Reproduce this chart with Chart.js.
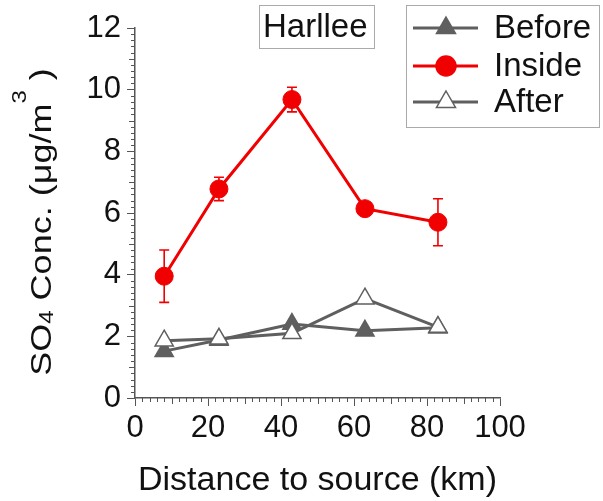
<!DOCTYPE html>
<html>
<head>
<meta charset="utf-8">
<script src="https://cdn.jsdelivr.net/npm/chart.js@4"></script>
<style>
  html, body { margin: 0; padding: 0; background: #fff; }
  canvas { display: block; }
</style>
</head>
<body>
<canvas id="myChart" width="603" height="501"></canvas>
<script>
// distance to source (km)
const distance = [8, 23, 43, 63, 83];
// SO4 concentration (ug/m3)
const beforeVals = [1.52, 1.88, 2.4, 2.18, 2.28];
const insideVals = [3.95, 6.78, 9.68, 6.14, 5.7];
const insideErr = [0.85, 0.38, 0.4, 0.2, 0.76];
const afterVals = [1.86, 1.92, 2.1, 3.22, 2.3];
const xTicks = [0, 20, 40, 60, 80, 100];
const yTicks = [0, 2, 4, 6, 8, 10, 12];
const siteName = 'Harllee';

const RED = 'rgb(240, 0, 0)';
const GRAY = 'rgb(95, 95, 95)';
const FONT = "'Liberation Sans', Arial, sans-serif";

function toPoints(vals) {
    let pts = [];
    for (let i = 0; i < distance.length; i++) {
        pts.push({ x: distance[i], y: vals[i] });
    }
    return pts;
}

// error bars on the Inside series
const errorBars = {
    id: 'errorBars',
    beforeDatasetsDraw(chart) {
        const ctx = chart.ctx;
        const xs = chart.scales.x, ys = chart.scales.y;
        ctx.save();
        ctx.strokeStyle = RED;
        ctx.lineWidth = 1.6;
        for (let i = 0; i < distance.length; i++) {
            const px = xs.getPixelForValue(distance[i]);
            const top = ys.getPixelForValue(insideVals[i] + insideErr[i]);
            const bot = ys.getPixelForValue(insideVals[i] - insideErr[i]);
            ctx.beginPath();
            ctx.moveTo(px, top); ctx.lineTo(px, bot);
            ctx.moveTo(px - 5, top); ctx.lineTo(px + 5, top);
            ctx.moveTo(px - 5, bot); ctx.lineTo(px + 5, bot);
            ctx.stroke();
        }
        ctx.restore();
    }
};

// minor ticks on both axes
const minorTicks = {
    id: 'minorTicks',
    afterDraw(chart) {
        const ctx = chart.ctx;
        const xs = chart.scales.x, ys = chart.scales.y;
        const a = chart.chartArea;
        ctx.save();
        ctx.strokeStyle = '#555';
        ctx.lineWidth = 1;
        ctx.beginPath();
        for (let v = 0; v <= 100.01; v += 2) {
            if (Math.round(v) % 20 === 0) continue;
            const px = Math.round(xs.getPixelForValue(v)) + 0.5;
            const len = Math.round(v) % 10 === 0 ? 6 : 4;
            ctx.moveTo(px, a.bottom); ctx.lineTo(px, a.bottom + len);
        }
        for (let k = 0; k <= 60; k++) {
            if (k % 10 === 0) continue;
            const py = Math.round(ys.getPixelForValue(k * 0.2)) + 0.5;
            const len = k % 5 === 0 ? 6 : 4;
            ctx.moveTo(a.left, py); ctx.lineTo(a.left - len, py);
        }
        ctx.stroke();
        ctx.restore();
    }
};

// y axis title with subscript 4 and superscript 3
const yTitle = {
    id: 'yTitle',
    afterDraw(chart) {
        const ctx = chart.ctx;
        const parts = [
            { t: 'SO', size: 30, dy: 0 },
            { t: '4', size: 20, dy: 2 },
            { t: ' Conc. (μg/m', size: 30, dy: 0 },
            { t: '3', size: 20, dy: -25 },
            { t: ' )', size: 30, dy: 0 }
        ];
        ctx.save();
        ctx.fillStyle = '#111';
        ctx.textBaseline = 'alphabetic';
        ctx.textAlign = 'left';
        let total = 0;
        parts.forEach(function (p) {
            ctx.font = p.size + 'px ' + FONT;
            p.w = ctx.measureText(p.t).width;
            total += p.w;
        });
        ctx.translate(51, 222);
        ctx.rotate(-Math.PI / 2);
        ctx.scale(1.2, 1);
        let x = -total / 2;
        parts.forEach(function (p) {
            ctx.font = p.size + 'px ' + FONT;
            ctx.fillText(p.t, x, p.dy);
            x += p.w;
        });
        ctx.restore();
    }
};

function drawMarker(ctx, kind, x, y, r, fill, stroke) {
    ctx.beginPath();
    if (kind === 'circle') {
        ctx.arc(x, y, r, 0, Math.PI * 2);
    } else {
        ctx.moveTo(x, y - r);
        ctx.lineTo(x + r * 0.866, y + r / 2);
        ctx.lineTo(x - r * 0.866, y + r / 2);
        ctx.closePath();
    }
    ctx.fillStyle = fill;
    ctx.fill();
    ctx.strokeStyle = stroke;
    ctx.lineWidth = 1.5;
    ctx.stroke();
}

// site label and legend boxes
const boxes = {
    id: 'boxes',
    afterDraw(chart) {
        const ctx = chart.ctx;
        ctx.save();
        ctx.strokeStyle = '#aaa';
        ctx.lineWidth = 1;
        ctx.strokeRect(259.5, 5.5, 115, 43);
        ctx.font = '33px ' + FONT;
        ctx.fillStyle = '#111';
        ctx.textBaseline = 'middle';
        ctx.textAlign = 'left';
        ctx.fillText(siteName, 263, 28);

        ctx.strokeRect(406.5, 5.5, 193, 122);
        const items = [
            { label: 'Before', color: GRAY, kind: 'triangle', fill: GRAY, r: 11, y: 28 },
            { label: 'Inside', color: RED, kind: 'circle', fill: RED, r: 10, y: 66 },
            { label: 'After', color: GRAY, kind: 'triangle', fill: '#fff', r: 11, y: 102 }
        ];
        items.forEach(function (it) {
            ctx.strokeStyle = it.color;
            ctx.lineWidth = 3;
            ctx.beginPath();
            ctx.moveTo(413, it.y); ctx.lineTo(478, it.y);
            ctx.stroke();
            drawMarker(ctx, it.kind, 446, it.y, it.r, it.fill, it.color);
            ctx.fillStyle = '#111';
            ctx.font = '33px ' + FONT;
            ctx.fillText(it.label, 494, it.y + 1);
        });
        ctx.restore();
    }
};

const data = {
    datasets: [{
        label: 'After',
        data: toPoints(afterVals),
        borderColor: GRAY,
        borderWidth: 3,
        pointStyle: 'triangle',
        pointRadius: 10.5,
        pointBackgroundColor: '#fff',
        pointBorderColor: GRAY,
        pointBorderWidth: 1.5
    }, {
        label: 'Before',
        data: toPoints(beforeVals),
        borderColor: GRAY,
        borderWidth: 3,
        pointStyle: 'triangle',
        pointRadius: 10.5,
        pointBackgroundColor: GRAY,
        pointBorderColor: GRAY,
        pointBorderWidth: 1.5
    }, {
        label: 'Inside',
        data: toPoints(insideVals),
        borderColor: RED,
        borderWidth: 3,
        pointStyle: 'circle',
        pointRadius: 9,
        pointBackgroundColor: RED,
        pointBorderColor: RED,
        pointBorderWidth: 1
    }]
};

const config = {
    type: 'line',
    data: data,
    options: {
        responsive: false,
        animation: false,
        layout: { padding: { top: 28, right: 103, left: 0, bottom: 0 } },
        plugins: {
            legend: { display: false },
            tooltip: { enabled: false }
        },
        scales: {
            x: {
                type: 'linear',
                min: 0, max: 100,
                afterBuildTicks: function (scale) {
                    scale.ticks = xTicks.map(function (v) { return { value: v }; });
                },
                afterFit: function (scale) { scale.height = 103; },
                border: { display: true, color: '#555', width: 1.5 },
                grid: { drawOnChartArea: false, drawTicks: true, tickLength: 8, color: '#555' },
                ticks: { color: '#111', font: { family: FONT, size: 31 }, padding: 4, maxRotation: 0, autoSkip: false },
                title: {
                    display: true,
                    text: 'Distance to source (km)',
                    color: '#111',
                    font: { family: FONT, size: 34 },
                    padding: { top: 0, bottom: 0 }
                }
            },
            y: {
                type: 'linear',
                min: 0, max: 12,
                afterBuildTicks: function (scale) {
                    scale.ticks = yTicks.map(function (v) { return { value: v }; });
                },
                afterFit: function (scale) { scale.width = 135; },
                border: { display: true, color: '#555', width: 1.5 },
                grid: { drawOnChartArea: false, drawTicks: true, tickLength: 8, color: '#555' },
                ticks: { color: '#111', font: { family: FONT, size: 31 }, padding: 6, autoSkip: false },
                title: { display: false }
            }
        }
    },
    plugins: [errorBars, minorTicks, yTitle, boxes]
};

const myChart = new Chart(document.getElementById('myChart'), config);
</script>
</body>
</html>
